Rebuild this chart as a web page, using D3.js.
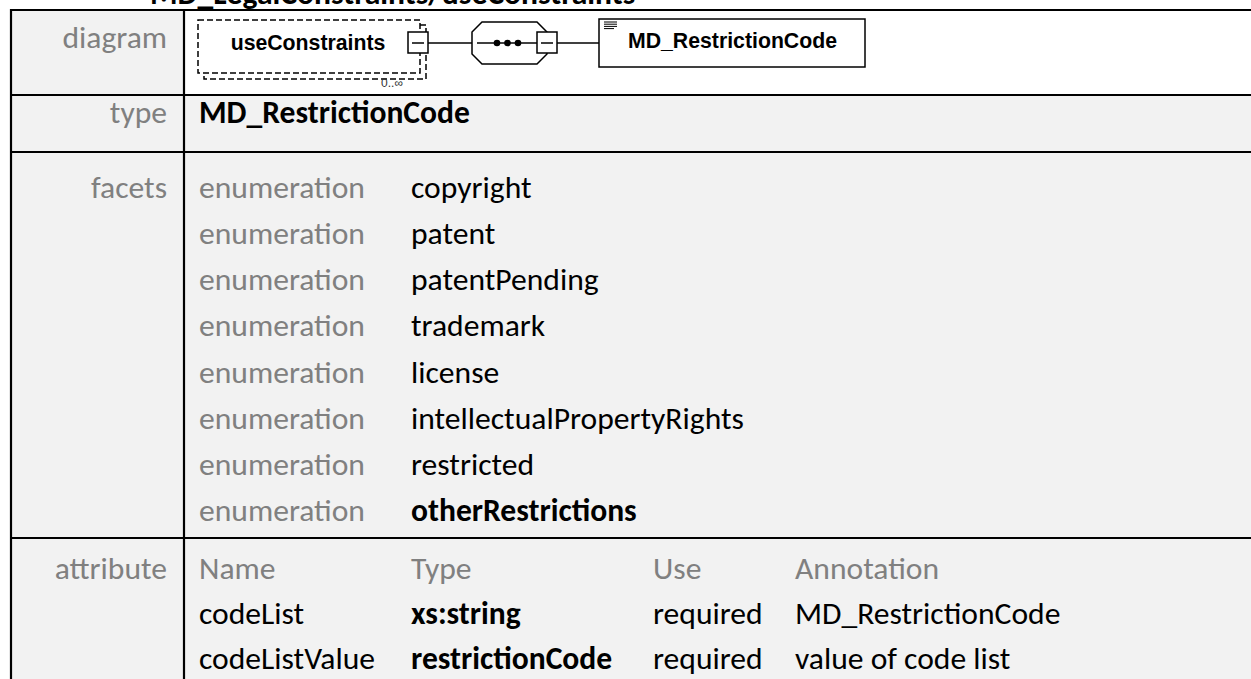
<!DOCTYPE html>
<html><head><meta charset="utf-8">
<script src="https://cdn.jsdelivr.net/npm/d3@7"></script>
<style>html,body{margin:0;padding:0;background:#fff;overflow:hidden}</style>
</head><body>
<svg id="c" width="1251" height="679"></svg>
<script>
// ---- data ----
const title = "MD_LegalConstraints/useConstraints";
const rowLabels = ["diagram", "type", "facets", "attribute"];
const typeName = "MD_RestrictionCode";
const facetKinds = ["enumeration","enumeration","enumeration","enumeration","enumeration","enumeration","enumeration","enumeration"];
const facetValues = ["copyright","patent","patentPending","trademark","license","intellectualPropertyRights","restricted","otherRestrictions"];
const facetBold = [false,false,false,false,false,false,false,true];
const attrHeaders = ["Name","Type","Use","Annotation"];
const attrNames = ["codeList","codeListValue"];
const attrTypes = ["xs:string","restrictionCode"];
const attrUses = ["required","required"];
const attrAnnotations = ["MD_RestrictionCode","value of code list"];
const diagramElement = "useConstraints";
const diagramOccurs = "0..\u221E";
const diagramType = "MD_RestrictionCode";

// ---- setup ----
const W = 1251, H = 679;
const svg = d3.select("#c");
const FONT = "Carlito, Calibri, Lato, 'Open Sans', sans-serif";
const DFONT = "'Liberation Sans', Arial, Helvetica, sans-serif";
const GRAY = "#808080", BG = "#f2f2f2";

function measure(str, size, weight, fam) {
  const t = svg.append("text").attr("font-family", fam).attr("font-size", size)
    .attr("font-weight", weight).text(str);
  const w = t.node().getComputedTextLength(); t.remove(); return w;
}
const fs = 100 * 166 / measure("enumeration", 100, "normal", FONT);
const fsd = 100 * 209 / measure(diagramType, 100, "bold", DFONT);

// geometry
const tLeft = 11, divX = 184, tTop = 10;
const rowY = [tTop, 95, 152, 538, H + 5];
const colX = d3.scaleOrdinal().domain([0, 1, 2, 3]).range([199, 411, 653, 795]);
const facetY = d3.scaleLinear().domain([0, facetValues.length - 1]).range([198, 521]);
const attrY = d3.scaleLinear().domain([0, attrNames.length]).range([579, 669]);
const labelBase = [48, 123, facetY(0), attrY(0)];

// backgrounds
svg.append("rect").attr("x", 0).attr("y", 0).attr("width", W).attr("height", H).attr("fill", "#fff");
svg.append("rect").attr("x", tLeft).attr("y", tTop).attr("width", W - tLeft).attr("height", H - tTop).attr("fill", BG);
svg.append("rect").attr("x", divX).attr("y", rowY[0]).attr("width", W - divX).attr("height", rowY[1] - rowY[0]).attr("fill", "#fff");

// title (clipped at top, as in the reference)
svg.append("text").attr("x", 150).attr("y", 4).attr("font-family", FONT).attr("font-size", fs)
  .attr("font-weight", "bold").attr("fill", "#000").text(title);

// borders
const g = svg.append("g").attr("stroke", "#000").attr("stroke-width", 2.2);
rowY.slice(0, 4).forEach(y => g.append("line").attr("x1", tLeft - 1).attr("x2", W).attr("y1", y).attr("y2", y));
g.append("line").attr("x1", tLeft).attr("x2", tLeft).attr("y1", tTop - 1).attr("y2", H);
g.append("line").attr("x1", divX).attr("x2", divX).attr("y1", tTop).attr("y2", H);

// row labels
svg.append("g").selectAll("text").data(rowLabels).join("text")
  .attr("x", 167).attr("y", (d, i) => labelBase[i]).attr("text-anchor", "end")
  .attr("font-family", FONT).attr("font-size", fs).attr("fill", GRAY).text(d => d);

// type row
svg.append("text").attr("x", colX(0)).attr("y", labelBase[1]).attr("font-family", FONT)
  .attr("font-size", fs).attr("font-weight", "bold").attr("fill", "#000").text(typeName);

// facets
const fg = svg.append("g").attr("font-family", FONT).attr("font-size", fs);
fg.selectAll("text.k").data(facetKinds).join("text").attr("class", "k")
  .attr("x", colX(0)).attr("y", (d, i) => facetY(i)).attr("fill", GRAY).text(d => d);
fg.selectAll("text.v").data(facetValues).join("text").attr("class", "v")
  .attr("x", colX(1)).attr("y", (d, i) => facetY(i)).attr("fill", "#000")
  .attr("font-weight", (d, i) => facetBold[i] ? "bold" : "normal").text(d => d);

// attributes
const ag = svg.append("g").attr("font-family", FONT).attr("font-size", fs);
ag.selectAll("text.h").data(attrHeaders).join("text").attr("class", "h")
  .attr("x", (d, i) => colX(i)).attr("y", attrY(0)).attr("fill", GRAY).text(d => d);
const attrRows = attrNames.map((n, i) => [n, attrTypes[i], attrUses[i], attrAnnotations[i]]);
attrRows.forEach((r, ri) => {
  ag.append("g").selectAll("text").data(r).join("text")
    .attr("x", (d, i) => colX(i)).attr("y", attrY(ri + 1)).attr("fill", "#000")
    .attr("font-weight", (d, i) => i === 1 ? "bold" : "normal").text(d => d);
});

// ---- diagram ----
const dg = svg.append("g").attr("stroke", "#000").attr("stroke-width", 1.5).attr("fill", "#fff");
const cy = 43;
dg.append("rect").attr("x", 204).attr("y", 25).attr("width", 222).attr("height", 54).attr("stroke-dasharray", "6,3");
dg.append("rect").attr("x", 198).attr("y", 20).attr("width", 222).attr("height", 53).attr("stroke-dasharray", "6,3");
svg.append("text").attr("x", 308).attr("y", 50).attr("text-anchor", "middle").attr("font-family", DFONT)
  .attr("font-size", fsd).attr("font-weight", "bold").attr("fill", "#000").text(diagramElement);
svg.append("text").attr("x", 392).attr("y", 87).attr("text-anchor", "middle").attr("font-family", DFONT)
  .attr("font-size", 12).attr("fill", "#333").text(diagramOccurs);
dg.append("line").attr("x1", 428).attr("x2", 472).attr("y1", cy).attr("y2", cy);
dg.append("line").attr("x1", 557).attr("x2", 599).attr("y1", cy).attr("y2", cy);
const ox0 = 472, ox1 = 547, oy0 = 22, oy1 = 64, c = 10;
dg.append("polygon").attr("points", [[ox0 + c, oy0], [ox1 - c, oy0], [ox1, oy0 + c], [ox1, oy1 - c], [ox1 - c, oy1], [ox0 + c, oy1], [ox0, oy1 - c], [ox0, oy0 + c]].map(p => p.join(",")).join(" "));
dg.append("line").attr("x1", 477).attr("x2", 537).attr("y1", cy).attr("y2", cy);
[497, 507.5, 518].forEach(x => dg.append("circle").attr("cx", x).attr("cy", cy).attr("r", 3.3).attr("fill", "#000").attr("stroke", "none"));
function minusBox(x) {
  dg.append("rect").attr("x", x).attr("y", 32).attr("width", 20).attr("height", 21);
  dg.append("line").attr("x1", x + 4).attr("x2", x + 16).attr("y1", cy).attr("y2", cy);
}
minusBox(408);
minusBox(537);
dg.append("rect").attr("x", 599).attr("y", 19).attr("width", 266).attr("height", 48);
[[604, 617], [604, 617], [604, 617], [604, 614]].forEach((p, i) =>
  dg.append("line").attr("x1", p[0]).attr("x2", p[1]).attr("y1", 22 + i * 2.2).attr("y2", 22 + i * 2.2).attr("stroke-width", 1));
svg.append("text").attr("x", 628).attr("y", 48).attr("font-family", DFONT)
  .attr("font-size", fsd).attr("font-weight", "bold").attr("fill", "#000").text(diagramType);
</script>
</body></html>
